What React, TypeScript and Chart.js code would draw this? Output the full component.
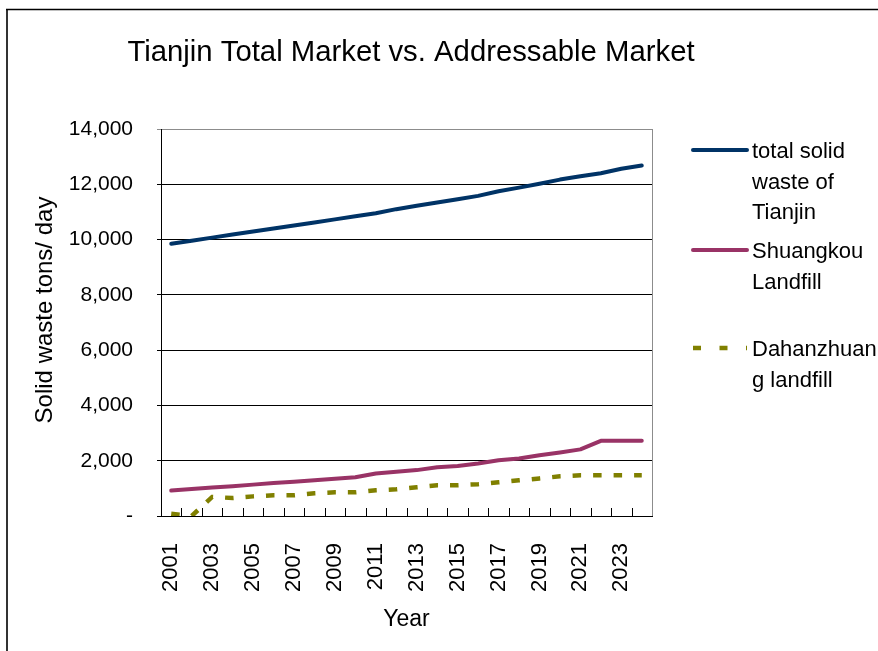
import React, { useEffect, useRef } from 'react';
import { Chart, registerables } from 'chart.js';

Chart.register(...registerables);

const years = ['2001', '2002', '2003', '2004', '2005', '2006', '2007', '2008', '2009', '2010', '2011', '2012', '2013', '2014', '2015', '2016', '2017', '2018', '2019', '2020', '2021', '2022', '2023', '2024'];
const totalSolidWaste = [9850, 9960, 10070, 10180, 10290, 10400, 10510, 10620, 10730, 10840, 10950, 11100, 11220, 11340, 11460, 11580, 11750, 11880, 12020, 12170, 12290, 12400, 12560, 12680];
const shuangkouLandfill = [920, 975, 1030, 1080, 1135, 1190, 1240, 1295, 1345, 1400, 1540, 1600, 1660, 1760, 1810, 1900, 2020, 2080, 2200, 2300, 2410, 2720, 2720, 2720];
const dahanzhuangLandfill = [80, 0, 690, 650, 710, 750, 750, 820, 855, 855, 930, 965, 1040, 1110, 1110, 1150, 1220, 1290, 1360, 1435, 1470, 1470, 1470, 1470];
const yTickValues = [0, 2000, 4000, 6000, 8000, 10000, 12000, 14000];

const seriesLabels = ['total solid waste of Tianjin', 'Shuangkou Landfill', 'Dahanzhuang landfill'];
const legendLines = [['total solid', 'waste of', 'Tianjin'], ['Shuangkou', 'Landfill'], ['Dahanzhuan', 'g landfill']];
const titleText = 'Tianjin Total Market vs. Addressable Market';
const yAxisTitle = 'Solid waste tons/ day';
const xAxisTitle = 'Year';

const FONT = "'Liberation Sans', Arial, sans-serif";
const COLORS = ['#003366', '#993366', '#808000'];

const framePlugin = {
  id: 'frame',
  beforeDraw(chart: any) {
    const ctx = chart.ctx;
    ctx.save();
    ctx.fillStyle = '#ffffff';
    ctx.fillRect(0, 0, chart.width, chart.height);
    ctx.strokeStyle = '#333333';
    ctx.lineWidth = 2;
    ctx.beginPath();
    ctx.moveTo(7, 9);
    ctx.lineTo(7, chart.height);
    ctx.stroke();
    ctx.strokeStyle = '#000000';
    ctx.lineWidth = 1.5;
    ctx.beginPath();
    ctx.moveTo(6, 9.5);
    ctx.lineTo(chart.width, 9.5);
    ctx.stroke();
    // chart title
    ctx.fillStyle = '#000000';
    ctx.font = `29.3px ${FONT}`;
    ctx.textAlign = 'center';
    ctx.textBaseline = 'alphabetic';
    ctx.fillText(titleText, 411, 61);
    ctx.restore();
  },
  beforeDatasetsDraw(chart: any) {
    const ctx = chart.ctx;
    const { right, top, bottom } = chart.chartArea;
    const xs = chart.scales.x;
    ctx.save();
    // plot area right border
    ctx.strokeStyle = '#8c8c8c';
    ctx.lineWidth = 1;
    ctx.beginPath();
    ctx.moveTo(Math.round(right) + 0.5, top);
    ctx.lineTo(Math.round(right) + 0.5, bottom);
    ctx.stroke();
    // inner tick marks at category boundaries
    const step = xs.getPixelForValue(1) - xs.getPixelForValue(0);
    ctx.strokeStyle = '#000000';
    ctx.beginPath();
    for (let i = 1; i < years.length; i++) {
      const x = Math.round(xs.getPixelForValue(i) - step / 2) + 0.5;
      ctx.moveTo(x, bottom);
      ctx.lineTo(x, bottom - 8);
    }
    ctx.stroke();
    // y axis title
    ctx.fillStyle = '#000000';
    ctx.font = `24px ${FONT}`;
    ctx.textAlign = 'center';
    ctx.textBaseline = 'middle';
    ctx.translate(45, 310);
    ctx.rotate(-Math.PI / 2);
    ctx.fillText(yAxisTitle, 0, 0);
    ctx.restore();
  },
  afterDraw(chart: any) {
    const ctx = chart.ctx;
    const { right, top } = chart.chartArea;
    const offsets = [21, 121, 219];
    ctx.save();
    legendLines.forEach((lines, i) => {
      const ds = chart.data.datasets[i];
      const y = top + offsets[i];
      ctx.strokeStyle = ds.borderColor;
      ctx.lineWidth = i === 2 ? 4.5 : 4;
      ctx.lineCap = i === 2 ? 'butt' : 'round';
      ctx.setLineDash(i === 2 ? [8, 18.5] : []);
      ctx.beginPath();
      ctx.moveTo(right + 41, y);
      ctx.lineTo(right + 95, y);
      ctx.stroke();
      ctx.setLineDash([]);
      ctx.fillStyle = '#000000';
      ctx.font = `22px ${FONT}`;
      ctx.textAlign = 'left';
      ctx.textBaseline = 'alphabetic';
      lines.forEach((t, j) => {
        ctx.fillText(t, right + 100, y + 8 + j * 30.5);
      });
    });
    ctx.restore();
  },
};

export default function App() {
  const canvasRef = useRef<HTMLCanvasElement | null>(null);

  useEffect(() => {
    const canvas = canvasRef.current;
    if (!canvas) return;
    const chart = new Chart(canvas, {
      type: 'line',
      data: {
        labels: years,
        datasets: [
          {
            label: seriesLabels[0],
            data: totalSolidWaste,
            borderColor: COLORS[0],
            backgroundColor: COLORS[0],
            borderWidth: 4,
            borderCapStyle: 'round',
            borderJoinStyle: 'round',
            pointRadius: 0,
            tension: 0,
          },
          {
            label: seriesLabels[1],
            data: shuangkouLandfill,
            borderColor: COLORS[1],
            backgroundColor: COLORS[1],
            borderWidth: 4,
            borderCapStyle: 'round',
            borderJoinStyle: 'round',
            pointRadius: 0,
            tension: 0,
          },
          {
            label: seriesLabels[2],
            data: dahanzhuangLandfill,
            borderColor: COLORS[2],
            backgroundColor: COLORS[2],
            borderWidth: 4.5,
            borderDash: [8.5, 12],
            borderCapStyle: 'butt',
            pointRadius: 0,
            tension: 0,
          },
        ],
      },
      options: {
        responsive: false,
        animation: false,
        devicePixelRatio: 1,
        layout: { padding: { left: 0, right: 226, top: 129, bottom: 0 } },
        plugins: {
          legend: { display: false },
          tooltip: { enabled: false },
          title: { display: false },
        },
        scales: {
          x: {
            type: 'category',
            offset: true,
            grid: { display: false },
            border: { display: true, color: '#000000', width: 1 },
            ticks: {
              autoSkip: false,
              maxRotation: 90,
              minRotation: 90,
              padding: 19,
              color: '#000000',
              font: { family: FONT, size: 22 },
              callback: (_v: any, i: number) => (i % 2 === 0 ? years[i] : ''),
            },
            title: {
              display: true,
              text: xAxisTitle,
              color: '#000000',
              font: { family: FONT, size: 23, lineHeight: 1.2 },
              padding: { top: 0, bottom: 18 },
            },
            afterFit: (s: any) => {
              s.height = 135;
            },
          },
          y: {
            min: 0,
            max: 14000,
            afterBuildTicks: (s: any) => {
              s.ticks = yTickValues.map((v) => ({ value: v }));
            },
            grid: {
              color: (c: any) => (c.tick && c.tick.value === 14000 ? '#8c8c8c' : '#000000'),
              tickLength: 4,
              drawTicks: true,
              lineWidth: 1,
            },
            border: { display: true, color: '#000000', width: 1 },
            ticks: {
              padding: 24,
              color: '#000000',
              font: { family: FONT, size: 21 },
              callback: (v: any) => (Number(v) === 0 ? '-' : Number(v).toLocaleString('en-US')),
            },
            afterFit: (s: any) => {
              s.width = 161;
            },
          },
        },
      },
      plugins: [framePlugin],
    } as any);
    return () => chart.destroy();
  }, []);

  return (
    <div style={{ position: 'fixed', left: 0, top: 0, width: 878, height: 651, background: '#ffffff' }}>
      <canvas ref={canvasRef} width={878} height={651} style={{ display: 'block', width: 878, height: 651 }} />
    </div>
  );
}
